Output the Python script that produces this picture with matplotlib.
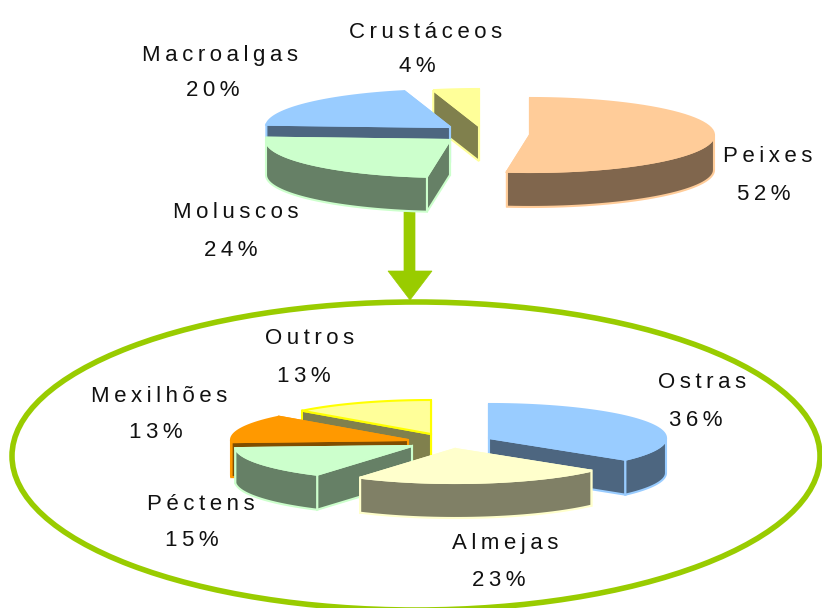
import numpy as np
import matplotlib
matplotlib.use("Agg")
import matplotlib.pyplot as plt
from matplotlib.patches import Ellipse, Polygon

plt.rcParams["font.family"] = ["Liberation Sans", "DejaVu Sans"]

# Top pie, clockwise from 12 o'clock
top_labels = ["Peixes", "Moluscos", "Macroalgas", "Crustáceos"]
top_values = [52, 24, 20, 4]
top_text = ["52%", "24%", "20%", "4%"]

# Bottom pie
low_labels = ["Ostras", "Almejas", "Péctens", "Mexilhões", "Outros"]
low_values = [36, 23, 15, 13, 13]
low_text = ["36%", "23%", "15%", "13%", "13%"]

# style per slice: top colour, side colour, edge colour
top_styles = [("#FFCC99", "#80664D", "#FFCC99"), ("#CCFFCC", "#668066", "#CCFFCC"),
              ("#99CCFF", "#4D6680", "#99CCFF"), ("#FFFF99", "#80804D", "#FFFF99")]
low_styles = [("#99CCFF", "#4D6680", "#99CCFF"), ("#FFFFCC", "#808066", "#FFFFCC"),
              ("#CCFFCC", "#668066", "#CCFFCC"), ("#FF9900", "#804D00", "#FF9900"),
              ("#FFFF99", "#80804D", "#FFFF00")]

# apex of each exploded slice, in pixels
top_centers = [(530, 135), (450, 140), (450, 127), (479, 126)]
low_centers = [(489, 438), (455, 449), (412, 446), (408, 440), (431, 434)]

# label centres in pixels
top_label_pos = [(768, 157), (236, 212), (220, 55), (426, 32)]
top_pct_pos = [(764, 194), (231, 250), (213, 90), (417, 67)]
low_label_pos = [(702, 382), (505, 543), (201, 504), (159, 396), (310, 339)]
low_pct_pos = [(696, 420), (499, 580), (192, 541), (156, 432), (304, 376)]


def point(c, rx, ry, theta):
    return c[0] + rx * np.sin(theta), c[1] - ry * np.cos(theta)


def draw_slice(ax, c, a0, a1, rx, ry, depth, style, z):
    face, side, edge = style
    lw = 1.5
    # cut faces, the one further back first
    for a in sorted((a0, a1), key=lambda v: point(c, rx, ry, v)[1]):
        x, y = point(c, rx, ry, a)
        ax.add_patch(Polygon([c, (x, y), (x, y + depth), (c[0], c[1] + depth)],
                             fc=side, ec=edge, lw=lw, zorder=z))
    # outer wall, only the front half shows
    lo, hi = max(a0, np.pi / 2), min(a1, 3 * np.pi / 2)
    if hi > lo:
        t = np.linspace(lo, hi, 40)
        x, y = point(c, rx, ry, t)
        pts = list(zip(x, y)) + list(zip(x[::-1], y[::-1] + depth))
        ax.add_patch(Polygon(pts, fc=side, ec=edge, lw=lw, zorder=z))
    t = np.linspace(a0, a1, 60)
    x, y = point(c, rx, ry, t)
    ax.add_patch(Polygon([c] + list(zip(x, y)), fc=face, ec=edge, lw=lw, zorder=z))


def draw_pie(ax, values, centers, styles, order, rx, ry, depth, z0=3):
    edges = np.cumsum([0] + list(values)) / sum(values) * 2 * np.pi
    for k, i in enumerate(order):
        draw_slice(ax, centers[i], edges[i], edges[i + 1], rx, ry, depth, styles[i], z0 + k * 0.1)


def spaced(s):
    return "\u2009".join(s)


fig = plt.figure(figsize=(8.22, 6.08), dpi=100)
ax = fig.add_axes([0, 0, 1, 1])
ax.set_xlim(0, 822)
ax.set_ylim(608, 0)
ax.axis("off")

green = "#99CC00"
ax.add_patch(Ellipse((416, 456), 808, 308, fc="none", ec=green, lw=4, zorder=1))
ax.add_patch(Polygon([(404, 212), (415, 212), (415, 271), (432, 271), (410, 300),
                      (388, 271), (404, 271)], fc=green, ec=green, lw=0.5, zorder=2))

draw_pie(ax, top_values, top_centers, top_styles, [3, 2, 1, 0], 184, 37, 35)
draw_pie(ax, low_values, low_centers, low_styles, [4, 3, 2, 0, 1], 177, 34, 35)

for names, pcts, lp, pp in [(top_labels, top_text, top_label_pos, top_pct_pos),
                            (low_labels, low_text, low_label_pos, low_pct_pos)]:
    for i in range(len(names)):
        ax.text(lp[i][0], lp[i][1], spaced(names[i]), ha="center", va="center",
                fontsize=16, color="#111111", zorder=10)
        ax.text(pp[i][0], pp[i][1], spaced(pcts[i]), ha="center", va="center",
                fontsize=16, color="#111111", zorder=10)

fig.savefig("out.png", dpi=100)
